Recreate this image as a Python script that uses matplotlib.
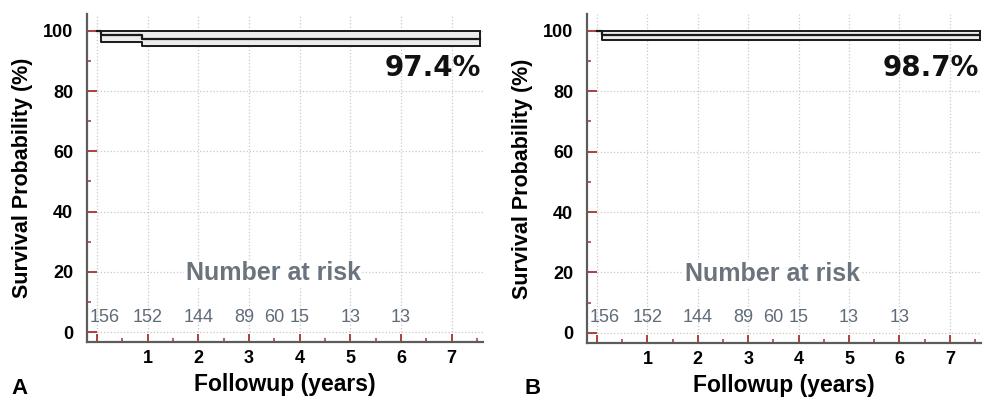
import numpy as np
import matplotlib
matplotlib.use("Agg")
from matplotlib import pyplot as plt
from matplotlib.ticker import MultipleLocator

plt.rcParams["font.family"] = ["Liberation Sans", "DejaVu Sans"]

# Kaplan-Meier steps, panel A
times_a = [0, 0.08, 0.88, 7.55]
surv_a = [100, 98.7, 97.4, 97.4]
lower_a = [100, 96.3, 94.9, 94.9]
upper_a = [100, 100, 100, 100]
final_a = "97.4%"

# panel B
times_b = [0, 0.1, 7.6]
surv_b = [100, 98.7, 98.7]
lower_b = [100, 97.0, 97.0]
upper_b = [100, 100, 100]
final_b = "98.7%"

# number at risk (same for both)
risk_times = [0, 1, 2, 3, 3.5, 4, 5, 6]
risk_counts = [156, 152, 144, 89, 60, 15, 13, 13]

tick_red = "#a83232"
spine_col = "#5c5c5c"
risk_col = "#5f6b78"


def draw_panel(ax, t, s, lo, hi, final_txt):
    ax.set_xlim(-0.2, 7.62)
    ax.set_ylim(-3.3, 105.6)

    # band and outline
    ax.fill_between(t, lo, hi, step="post", color="#ececec", zorder=2)
    ax.step(t, hi, where="post", color="#1a1a1a", lw=1.4, zorder=3)
    ax.step(t, lo, where="post", color="#1a1a1a", lw=1.4, zorder=3)
    ax.step(t, s, where="post", color="#1a1a1a", lw=1.6, zorder=3)
    ax.plot([t[-1], t[-1]], [lo[-1], hi[-1]], color="#1a1a1a", lw=1.4, zorder=3)

    ax.text(7.58, 87.8, final_txt, ha="right", va="center", fontsize=20,
            fontweight="bold", family="DejaVu Sans", color="#111111")

    # number at risk
    ax.text(3.48, 19.5, "Number at risk", ha="center", va="center", fontsize=18,
            fontweight="bold", color="#6b737c", zorder=4,
            bbox=dict(facecolor="white", edgecolor="none", pad=1))
    for i, (rt, rc) in enumerate(zip(risk_times, risk_counts)):
        xpos = rt + (0.15 if i == 0 else 0) - (0.1 if rt == 3 else 0)
        ax.text(xpos, 5.0, str(rc), ha="center", va="center", fontsize=13,
                color=risk_col, zorder=4)

    # axes styling
    for side in ["top", "right"]:
        ax.spines[side].set_visible(False)
    for side in ["left", "bottom"]:
        ax.spines[side].set_color(spine_col)
        ax.spines[side].set_linewidth(1.6)

    ax.xaxis.set_major_locator(MultipleLocator(1))
    ax.xaxis.set_minor_locator(MultipleLocator(0.5))
    ax.yaxis.set_major_locator(MultipleLocator(20))
    ax.yaxis.set_minor_locator(MultipleLocator(10))
    ax.set_xticks(range(0, 8))
    ax.set_xticklabels([""] + [str(i) for i in range(1, 8)])

    ax.tick_params(axis="both", which="major", direction="in", color=tick_red,
                   width=1.3, labelsize=13)
    ax.tick_params(axis="y", which="major", length=7, pad=10)
    ax.tick_params(axis="x", which="major", length=6, pad=6)
    ax.tick_params(axis="both", which="minor", direction="in", color=tick_red,
                   width=1.1, length=3)
    for lab in ax.get_xticklabels() + ax.get_yticklabels():
        lab.set_fontweight("bold")

    ax.grid(True, which="major", color="#c8c8c8", linestyle=":", linewidth=0.9)
    ax.set_axisbelow(True)

    ax.set_xlabel("Followup (years)", fontsize=16.5, fontweight="bold", labelpad=4)
    ax.set_ylabel("Survival Probability (%)", fontsize=15.5, fontweight="bold",
                  labelpad=7)


fig = plt.figure(figsize=(9.84, 4.0), dpi=100)
ax_a = fig.add_axes([0.0884, 0.145, 0.4026, 0.82])
ax_b = fig.add_axes([0.5965, 0.143, 0.4005, 0.822])

draw_panel(ax_a, times_a, surv_a, lower_a, upper_a, final_a)
draw_panel(ax_b, times_b, surv_b, lower_b, upper_b, final_b)

fig.text(0.012, 0.015, "A", fontsize=16, fontweight="bold")
fig.text(0.533, 0.015, "B", fontsize=16, fontweight="bold")

fig.savefig("out.png", dpi=100)
